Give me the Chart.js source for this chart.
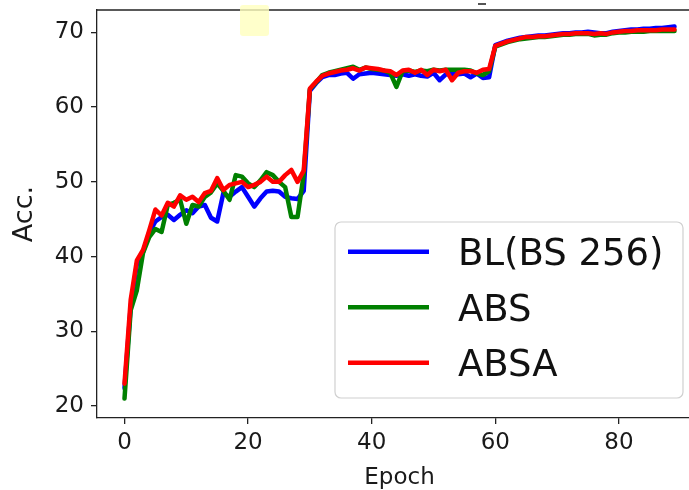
<!DOCTYPE html>
<html>
<head>
<meta charset="utf-8">
<script src="https://cdn.jsdelivr.net/npm/chart.js@4.4.1/dist/chart.umd.min.js"></script>
<style>
  html, body { margin: 0; padding: 0; background: #fff; }
  #wrap { position: relative; width: 689px; height: 490px; overflow: hidden; }
  #c { position: absolute; left: 0; top: 0; }
  #hl { position: absolute; left: 240px; top: 5px; width: 29px; height: 31px; background: rgba(255,255,190,0.8); border-radius: 3px; }
  #dash { position: absolute; left: 478px; top: 3px; width: 8px; height: 2px; background: #555; }
</style>
</head>
<body>
<div id="wrap">
  <canvas id="c" width="720" height="490"></canvas>
  <div id="hl"></div>
  <div id="dash"></div>
</div>
<script>
const epochs = Array.from({length: 90}, (_, i) => i);

const blBS256 = [
  22.4, 33.3, 39.0, 40.6, 43.2, 44.7, 45.3, 45.6, 44.9, 45.6,
  46.2, 45.8, 46.7, 46.9, 45.2, 44.7, 48.5, 48.0, 48.7, 49.3,
  48.0, 46.7, 47.8, 48.7, 48.8, 48.7, 48.0, 47.8, 47.7, 48.8,
  62.2, 63.2, 64.0, 64.3, 64.3, 64.5, 64.6, 63.8, 64.4, 64.5,
  64.6, 64.5, 64.4, 64.3, 64.2, 64.4, 64.2, 64.4, 64.2, 64.1,
  64.6, 63.6, 64.4, 64.4, 64.4, 64.5, 64.0, 64.5, 63.9, 64.0,
  68.3, 68.6, 68.9, 69.1, 69.3, 69.4, 69.5, 69.6, 69.6, 69.7,
  69.8, 69.9, 69.9, 70.0, 70.0, 70.1, 70.0, 69.9, 69.9, 70.1,
  70.2, 70.3, 70.4, 70.4, 70.5, 70.5, 70.6, 70.6, 70.7, 70.8
];

const abs = [
  21.0, 32.8, 35.5, 40.5, 42.6, 43.7, 43.3, 46.9, 47.2, 47.6,
  44.4, 46.9, 46.7, 48.0, 48.6, 49.8, 48.8, 47.6, 50.9, 50.7,
  49.8, 49.3, 50.2, 51.3, 50.9, 50.0, 49.3, 45.3, 45.3, 51.0,
  62.4, 63.3, 64.3, 64.6, 64.8, 65.0, 65.2, 65.4, 65.0, 65.3,
  65.1, 65.0, 64.9, 64.6, 62.7, 64.8, 64.9, 64.7, 64.9, 64.8,
  65.0, 64.9, 65.0, 65.0, 65.0, 65.0, 64.9, 64.5, 64.3, 64.8,
  68.1, 68.4, 68.7, 68.9, 69.1, 69.2, 69.3, 69.4, 69.4, 69.5,
  69.6, 69.7, 69.7, 69.8, 69.8, 69.8, 69.6, 69.7, 69.7, 69.9,
  70.0, 70.0, 70.1, 70.1, 70.1, 70.2, 70.2, 70.2, 70.2, 70.2
];

const absa = [
  23.0, 34.2, 39.5, 40.9, 43.5, 46.3, 45.5, 47.2, 46.7, 48.2,
  47.6, 48.0, 47.3, 48.5, 48.8, 50.5, 48.9, 49.6, 49.8, 50.0,
  49.3, 49.6, 50.0, 50.7, 50.0, 50.0, 50.9, 51.6, 50.0, 51.5,
  62.5, 63.4, 64.2, 64.5, 64.7, 64.9, 65.0, 65.2, 64.9, 65.3,
  65.2, 65.1, 64.9, 64.8, 64.3, 64.9, 65.0, 64.6, 65.0, 64.3,
  65.0, 64.8, 65.0, 63.6, 64.6, 64.8, 64.8, 64.6, 65.0, 65.1,
  68.2, 68.5, 68.8, 69.0, 69.2, 69.4, 69.4, 69.5, 69.5, 69.6,
  69.7, 69.8, 69.8, 69.9, 69.9, 69.9, 69.8, 69.9, 69.8, 70.0,
  70.1, 70.2, 70.2, 70.3, 70.3, 70.3, 70.3, 70.4, 70.4, 70.4
];

const seriesNames = ['BL(BS 256)', 'ABS', 'ABSA'];
const seriesColors = ['#0000ff', '#008000', '#ff0000'];
const xTicks = [0, 20, 40, 60, 80];
const yTicks = [20, 30, 40, 50, 60, 70];

const FONT = "'DejaVu Sans', sans-serif";
const toPts = arr => arr.map((v, i) => ({x: epochs[i], y: v}));

const frame = {
  id: 'frame',
  afterDatasetsDraw(chart) {
    const {ctx, chartArea: a} = chart;
    ctx.save();
    ctx.strokeStyle = '#222';
    ctx.lineWidth = 1.3;
    ctx.beginPath();
    ctx.moveTo(a.left, a.top);
    ctx.lineTo(a.right, a.top);
    ctx.stroke();
    ctx.restore();
  },
  afterDraw(chart) {
    const ctx = chart.ctx;
    ctx.save();
    const bx = 335, by = 222, bw = 348, bh = 176, r = 6;
    ctx.beginPath();
    ctx.roundRect(bx, by, bw, bh, r);
    ctx.fillStyle = 'rgba(255,255,255,0.85)';
    ctx.fill();
    ctx.strokeStyle = '#d0d0d0';
    ctx.lineWidth = 1.2;
    ctx.stroke();
    const rows = [251.7, 307.2, 362.7];
    seriesNames.forEach((name, i) => {
      const y = rows[i];
      ctx.strokeStyle = seriesColors[i];
      ctx.lineWidth = 4.5;
      ctx.beginPath();
      ctx.moveTo(348, y);
      ctx.lineTo(429, y);
      ctx.stroke();
      ctx.fillStyle = '#111';
      ctx.font = '37px ' + FONT;
      ctx.textBaseline = 'alphabetic';
      ctx.textAlign = 'left';
      ctx.fillText(name, 458, y + 13.5);
    });
    ctx.restore();
  }
};

const noPad = s => { s.paddingTop = 0; s.paddingBottom = 0; s.paddingLeft = 0; s.paddingRight = 0; };

new Chart(document.getElementById('c'), {
  type: 'line',
  data: {
    datasets: [
      {label: seriesNames[0], data: toPts(blBS256), borderColor: seriesColors[0], order: 2},
      {label: seriesNames[1], data: toPts(abs), borderColor: seriesColors[1], order: 1},
      {label: seriesNames[2], data: toPts(absa), borderColor: seriesColors[2], order: 0}
    ].map(d => Object.assign(d, {borderWidth: 4.5, pointRadius: 0, tension: 0, fill: false, borderJoinStyle: 'round', borderCapStyle: 'round'}))
  },
  options: {
    responsive: false,
    animation: false,
    devicePixelRatio: 1,
    layout: {padding: {top: 10, right: 18, left: 0, bottom: 0}},
    plugins: {legend: {display: false}, tooltip: {enabled: false}},
    scales: {
      x: {
        type: 'linear',
        min: -4.45, max: 93.45,
        afterBuildTicks: s => { s.ticks = xTicks.map(v => ({value: v})); },
        afterFit: s => { s.height = 72; noPad(s); },
        grid: {display: true, drawOnChartArea: false, drawTicks: true, tickLength: 6, color: '#222', lineWidth: 1.3},
        border: {display: true, color: '#222', width: 1.3},
        ticks: {font: {family: FONT, size: 23}, color: '#1a1a1a', padding: 5, maxRotation: 0, autoSkip: false},
        title: {display: true, text: 'Epoch', font: {family: FONT, size: 23, lineHeight: 1}, color: '#1a1a1a', padding: {top: 0, bottom: 0}}
      },
      y: {
        type: 'linear',
        min: 18.4, max: 73.0,
        afterBuildTicks: s => { s.ticks = yTicks.map(v => ({value: v})); },
        afterFit: s => { s.width = 97; noPad(s); },
        grid: {display: true, drawOnChartArea: false, drawTicks: true, tickLength: 6, color: '#222', lineWidth: 1.3},
        border: {display: true, color: '#222', width: 1.3},
        ticks: {font: {family: FONT, size: 23}, color: '#1a1a1a', padding: 7, autoSkip: false},
        title: {display: true, text: 'Acc.', font: {family: FONT, size: 27}, color: '#1a1a1a', padding: {top: 9, bottom: 0}}
      }
    }
  },
  plugins: [frame]
});
</script>
</body>
</html>
